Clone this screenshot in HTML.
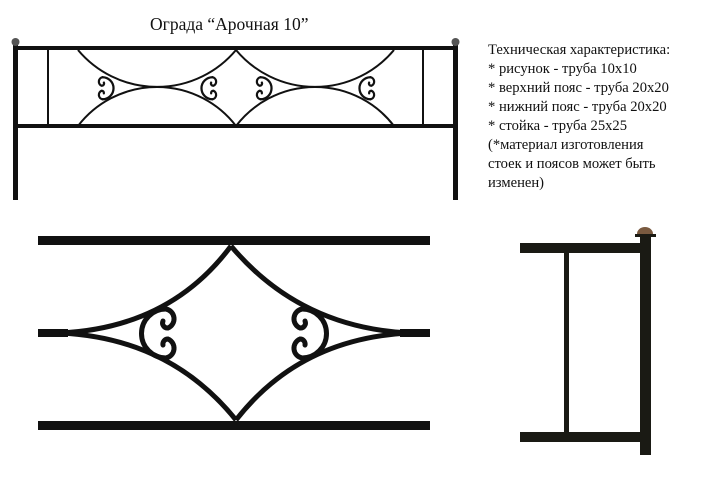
<!DOCTYPE html>
<html><head><meta charset="utf-8"><style>
html,body{margin:0;padding:0;background:#fff;width:718px;height:478px;overflow:hidden}
.t{position:absolute;font-family:"Liberation Serif","Noto Serif CJK SC",serif;color:#111}
</style></head><body>
<svg width="718" height="478" style="position:absolute;left:0;top:0">
<defs>
<g id="sc" fill="none" stroke="#111" stroke-width="5" stroke-linecap="round">
<path d="M166,309 A24.5,24.5 0 0 0 166,358"/>
<path d="M166,309 A10,10 0 0 1 168,328 A5,5 0 0 1 163,321"/>
<path d="M166,358 A10,10 0 0 0 168,339 A5,5 0 0 0 163,345"/>
</g>
</defs>
<g fill="#111">
<rect x="13" y="44" width="5" height="156"/>
<rect x="453" y="44" width="5" height="156"/>
<rect x="15" y="46" width="440" height="4"/>
<rect x="15" y="124" width="440" height="4"/>
<rect x="47" y="48" width="2" height="78"/>
<rect x="422" y="48" width="2" height="78"/>
<circle cx="15.5" cy="42" r="4" fill="#555"/>
<circle cx="455.5" cy="42" r="4" fill="#555"/>
</g>
<g fill="none" stroke="#111" stroke-width="2">
<path d="M78,50 A103,103 0 0 0 236,50"/>
<path d="M78,126 A99.5,99.5 0 0 1 236,126"/>
<path d="M236,50 A103,103 0 0 0 394,50"/>
<path d="M236,126 A99.5,99.5 0 0 1 394,126"/>
</g>
<use href="#sc" transform="translate(107,88) scale(-0.45,0.45) translate(-156,-333)"/>
<use href="#sc" transform="translate(208,88) scale(0.45,0.45) translate(-156,-333)"/>
<use href="#sc" transform="translate(265,88) scale(-0.45,0.45) translate(-156,-333)"/>
<use href="#sc" transform="translate(366,88) scale(0.45,0.45) translate(-156,-333)"/>
<g fill="#111">
<rect x="38" y="236" width="392" height="9"/>
<rect x="38" y="329" width="30" height="8"/>
<rect x="400" y="329" width="30" height="8"/>
<rect x="38" y="421" width="392" height="9"/>
</g>
<g fill="none" stroke="#111" stroke-width="5">
<path d="M231,246 Q170,328 60,333"/>
<path d="M236,420 Q170,338 60,333"/>
<path d="M231,246 Q300,328 410,333"/>
<path d="M236,420 Q300,338 410,333"/>
</g>
<use href="#sc"/>
<use href="#sc" transform="translate(468,0) scale(-1,1)"/>
<g fill="#1a1a14">
<rect x="520" y="243" width="122" height="10"/>
<rect x="520" y="432" width="122" height="10"/>
<rect x="564" y="253" width="5" height="180"/>
<rect x="640" y="236" width="11" height="219"/>
<rect x="635" y="234" width="21" height="3"/>
</g>
<path d="M637,234 A8,7 0 0 1 653,234 Z" fill="#7a5a40"/>
</svg>
<div class="t" style="left:150px;top:14px;font-size:17.5px;white-space:nowrap">Ограда “Арочная 10”</div>
<div class="t" style="left:488px;top:41px;font-size:14.6px;line-height:19px;white-space:nowrap">Техническая характеристика:<br>* рисунок - труба 10х10<br>* верхний пояс - труба 20х20<br>* нижний пояс - труба 20х20<br>* стойка - труба 25х25<br>(*материал изготовления<br>стоек и поясов может быть<br>изменен)</div>
</body></html>
